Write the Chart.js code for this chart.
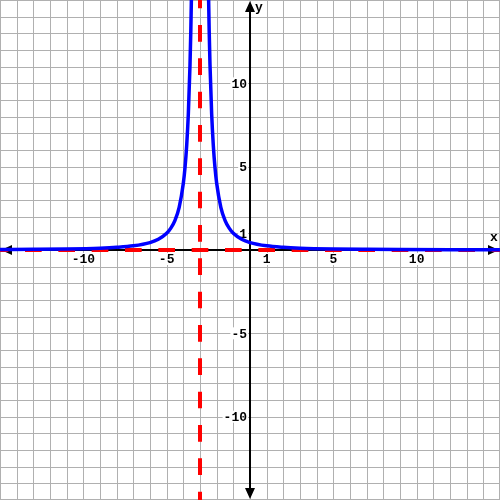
<!DOCTYPE html>
<html>
<head>
<meta charset="utf-8">
<script src="https://cdn.jsdelivr.net/npm/chart.js@4/dist/chart.umd.min.js"></script>
<style>
body { margin: 0; background: #ffffff; }
#wrap { width: 500px; height: 500px; }
</style>
</head>
<body>
<div id="wrap"><canvas id="graphCanvas" width="500" height="500"></canvas></div>
<script>
// axis range and tick labels
var axisMin = -15;
var axisMax = 15;
var xTickLabels = [-10, -5, 1, 5, 10];
var yTickLabels = [10, 5, 1, -5, -10];

// curve, left of the asymptote
var leftX = [-15, -13, -11, -9, -8, -7, -6, -5.5, -5, -4.75, -4.5, -4.25, -4, -3.9, -3.8, -3.7, -3.6, -3.55, -3.5, -3.45];
var leftY = [0.028, 0.04, 0.0625, 0.111, 0.16, 0.25, 0.444, 0.64, 1.0, 1.31, 1.78, 2.56, 4.0, 4.94, 6.25, 8.16, 11.1, 13.2, 16.0, 19.8];

// curve, right of the asymptote
var rightX = [-2.55, -2.5, -2.45, -2.4, -2.3, -2.2, -2.1, -2, -1.75, -1.5, -1.25, -1, -0.5, 0, 1, 2, 3, 5, 7, 9, 12, 15];
var rightY = [19.8, 16.0, 13.2, 11.1, 8.16, 6.25, 4.94, 4.0, 2.56, 1.78, 1.31, 1.0, 0.64, 0.444, 0.25, 0.16, 0.111, 0.0625, 0.04, 0.028, 0.018, 0.011];

// asymptotes
var vertAsymptote = -3;
var horizAsymptote = 0;

function toPoints(xs, ys)
{
	var pts = [];
	for (var i in xs) {
		pts.push({x: xs[i], y: ys[i]});
	}
	return pts;
}

var gridAndAxes = {
	id: 'gridAndAxes',
	beforeDatasetsDraw: function (chart)
	{
		var ctx = chart.ctx;
		var xs = chart.scales.x;
		var ys = chart.scales.y;
		var ox = xs.getPixelForValue(0);
		var oy = ys.getPixelForValue(0);
		var top = chart.chartArea.top, bottom = chart.chartArea.bottom;
		var left = chart.chartArea.left, right = chart.chartArea.right;
		ctx.save();

		// grid
		ctx.strokeStyle = '#b0b0b0';
		ctx.lineWidth = 1;
		for (var v = axisMin; v <= axisMax; v++) {
			var px = Math.min(Math.round(xs.getPixelForValue(v)), 499) + 0.5;
			var py = Math.min(Math.round(ys.getPixelForValue(v)), 499) + 0.5;
			ctx.beginPath();
			ctx.moveTo(px, top);
			ctx.lineTo(px, bottom);
			ctx.moveTo(left, py);
			ctx.lineTo(right, py);
			ctx.stroke();
		}

		// axes
		ctx.strokeStyle = '#000000';
		ctx.fillStyle = '#000000';
		ctx.lineWidth = 2;
		ctx.beginPath();
		ctx.moveTo(left + 4, oy);
		ctx.lineTo(right - 4, oy);
		ctx.moveTo(ox, top + 4);
		ctx.lineTo(ox, bottom - 4);
		ctx.stroke();

		// arrow heads
		ctx.beginPath();
		ctx.moveTo(right - 1, oy); ctx.lineTo(right - 12, oy - 5); ctx.lineTo(right - 12, oy + 5); ctx.closePath();
		ctx.moveTo(left + 1, oy); ctx.lineTo(left + 12, oy - 5); ctx.lineTo(left + 12, oy + 5); ctx.closePath();
		ctx.moveTo(ox, top + 1); ctx.lineTo(ox - 5, top + 12); ctx.lineTo(ox + 5, top + 12); ctx.closePath();
		ctx.moveTo(ox, bottom - 1); ctx.lineTo(ox - 5, bottom - 12); ctx.lineTo(ox + 5, bottom - 12); ctx.closePath();
		ctx.fill();

		// tick labels
		ctx.font = 'bold 13px "Liberation Mono", monospace';
		var i, t, w, lx, ly;
		ctx.textAlign = 'center';
		ctx.textBaseline = 'top';
		for (i in xTickLabels) {
			t = String(xTickLabels[i]);
			w = ctx.measureText(t).width;
			lx = xs.getPixelForValue(xTickLabels[i]);
			ctx.fillStyle = '#ffffff';
			ctx.fillRect(lx - w / 2 - 1, oy + 3, w + 2, 12);
			ctx.fillStyle = '#000000';
			ctx.fillText(t, lx, oy + 3);
		}
		ctx.textAlign = 'right';
		ctx.textBaseline = 'middle';
		for (i in yTickLabels) {
			t = String(yTickLabels[i]);
			w = ctx.measureText(t).width;
			ly = ys.getPixelForValue(yTickLabels[i]);
			ctx.fillStyle = '#ffffff';
			ctx.fillRect(ox - 3 - w - 1, ly - 6, w + 2, 12);
			ctx.fillStyle = '#000000';
			ctx.fillText(t, ox - 3, ly + 1);
		}

		// axis names
		ctx.textAlign = 'left';
		ctx.textBaseline = 'alphabetic';
		ctx.fillText('x', right - 10, oy - 9);
		ctx.fillText('y', ox + 5, top + 11);
		ctx.restore();
	}
};

function showGraph()
{
	var chartdata = {
		datasets: [
			{
				label: 'left',
				data: toPoints(leftX, leftY),
				showLine: true,
				borderColor: '#0000ff',
				borderWidth: 3.5,
				pointRadius: 0,
				cubicInterpolationMode: 'monotone',
				fill: false,
				order: 0
			},
			{
				label: 'right',
				data: toPoints(rightX, rightY),
				showLine: true,
				borderColor: '#0000ff',
				borderWidth: 3.5,
				pointRadius: 0,
				cubicInterpolationMode: 'monotone',
				fill: false,
				order: 0
			},
			{
				label: 'vertical asymptote',
				data: [{x: vertAsymptote, y: axisMax}, {x: vertAsymptote, y: axisMin}],
				showLine: true,
				borderColor: '#ff0000',
				borderWidth: 4,
				borderDash: [500 / 30, 500 / 30],
				borderDashOffset: 250 / 30,
				pointRadius: 0,
				fill: false,
				order: 1
			},
			{
				label: 'horizontal asymptote',
				data: [{x: axisMin, y: horizAsymptote}, {x: axisMax, y: horizAsymptote}],
				showLine: true,
				borderColor: '#ff0000',
				borderWidth: 4,
				borderDash: [500 / 30, 500 / 30],
				borderDashOffset: 250 / 30,
				pointRadius: 0,
				fill: false,
				order: 1
			}
		]
	};

	var graphTarget = document.getElementById('graphCanvas');

	var graph = new Chart(graphTarget, {
		type: 'scatter',
		data: chartdata,
		options: {
			responsive: false,
			animation: false,
			layout: { padding: 0 },
			plugins: {
				legend: { display: false },
				tooltip: { enabled: false }
			},
			scales: {
				x: { type: 'linear', min: axisMin, max: axisMax, display: false },
				y: { type: 'linear', min: axisMin, max: axisMax, display: false }
			}
		},
		plugins: [gridAndAxes]
	});
}

showGraph();
</script>
</body>
</html>
